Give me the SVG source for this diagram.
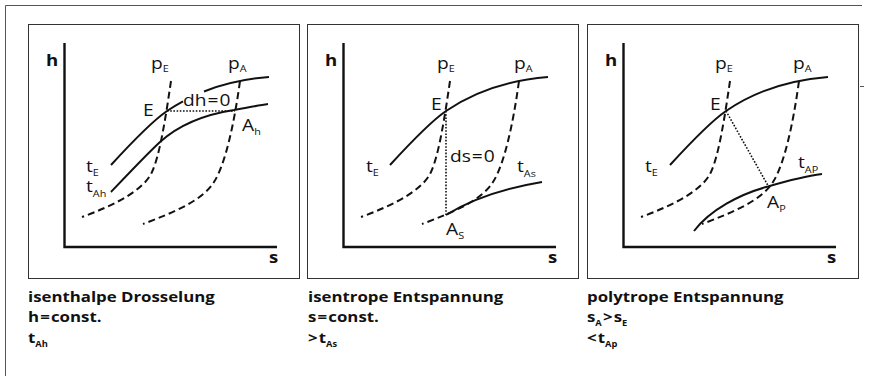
<svg xmlns="http://www.w3.org/2000/svg" width="872" height="376" viewBox="0 0 872 376">
<style>
text{font-family:"Open Sans","Liberation Sans",sans-serif;fill:#111}
.lbl{font-size:16px}
.ax{font-size:15.5px;font-weight:bold}
.cap{font-size:14.5px;font-weight:bold}
.sub{font-size:9px}
.csub{font-size:8px}
.frame{fill:none;stroke:#555;stroke-width:1}
.box{fill:none;stroke:#333;stroke-width:1}
.axis{fill:none;stroke:#111;stroke-width:2.4}
.iso{fill:none;stroke:#111;stroke-width:2}
.dash{fill:none;stroke:#111;stroke-width:2;stroke-dasharray:7 4}
.dot{fill:none;stroke:#111;stroke-width:1.6;stroke-dasharray:1.6 1.6}
</style>
<defs>
<rect id="box" x="28.5" y="24.5" width="271" height="254"/>
<path id="axes" d="M64.5,43 V247 H277"/>
<path id="pE" d="M171,81 C166,115 160,155 152,172 C144,190 115,205 82,217"/>
<path id="pA" d="M240,81 C234,125 225,165 214,182 C203,200 175,212 143,224"/>
<path id="tE" d="M111,165 C133,141 151,122 167,111 C196,91 231,80 269,77"/>
</defs>

<g id="frame">
<path class="frame" d="M5.5,376 V5.5 H862"/>
<path class="frame" d="M860,86.5 H864"/>
</g>

<g id="panel-isenthalp">
<use href="#box" class="box"/>
<use href="#axes" class="axis"/>
<g id="curves-1">
<use href="#pE" class="dash"/>
<use href="#pA" class="dash"/>
<path class="iso" d="M111,165 C133,141 151,122 167,111 C172.1,107.5 177.35,104.3 183,101.3"/>
<path class="iso" d="M204,91.45 C224.1,83.55 246,78.8 269,77"/>
<path class="iso" d="M111,192 C130,172 148,153 160,142 C180,124 208,114 234,110 C248,107.5 258,105.5 268,104"/>
<path class="dot" d="M167,111 H235"/>
</g>
<text class="ax" transform="translate(46,66) scale(1.2,1)">h</text>
<text class="ax" transform="translate(269,263) scale(1.2,1)">s</text>
<text class="lbl" transform="translate(151,69) scale(1.2,1)">p<tspan class="sub" dy="3">E</tspan></text>
<text class="lbl" transform="translate(228,69) scale(1.2,1)">p<tspan class="sub" dy="3">A</tspan></text>
<text class="lbl" transform="translate(143,115.5) scale(1.2,1)">E</text>
<text class="lbl" transform="translate(183,105.5) scale(1.2,1)">dh<tspan dx="0.8">=</tspan><tspan dx="0.8">0</tspan></text>
<text class="lbl" transform="translate(242,131) scale(1.2,1)">A<tspan class="sub" dy="4">h</tspan></text>
<text class="lbl" transform="translate(86,171.5) scale(1.2,1)">t<tspan class="sub" dy="4">E</tspan></text>
<text class="lbl" transform="translate(86,192) scale(1.2,1)">t<tspan class="sub" dy="5">Ah</tspan></text>
<text class="cap" transform="translate(28,302) scale(1.16,1)">isenthalpe Drosselung</text>
<text class="cap" transform="translate(28,322) scale(1.16,1)">h<tspan dx="1">=</tspan><tspan dx="1">const.</tspan></text>
<text class="cap" transform="translate(28,343) scale(1.16,1)">t<tspan class="csub" dy="4">Ah</tspan></text>
</g>

<g id="panel-isentrop">
<g transform="translate(279,0)">
<use href="#box" class="box"/>
<use href="#axes" class="axis"/>
<g id="curves-2">
<use href="#pE" class="dash"/>
<use href="#pA" class="dash"/>
<use href="#tE" class="iso"/>
<path class="iso" d="M167,215 C191,200 221,189 263,182"/>
<path class="dot" d="M167,111 V215"/>
</g>
</g>
<text class="ax" transform="translate(325,66) scale(1.2,1)">h</text>
<text class="ax" transform="translate(548,263) scale(1.2,1)">s</text>
<text class="lbl" transform="translate(437,69) scale(1.2,1)">p<tspan class="sub" dy="3">E</tspan></text>
<text class="lbl" transform="translate(514,69) scale(1.2,1)">p<tspan class="sub" dy="3">A</tspan></text>
<text class="lbl" transform="translate(431,110) scale(1.2,1)">E</text>
<text class="lbl" transform="translate(450,162) scale(1.2,1)">ds<tspan dx="0.8">=</tspan><tspan dx="0.8">0</tspan></text>
<text class="lbl" transform="translate(366,171.5) scale(1.2,1)">t<tspan class="sub" dy="4">E</tspan></text>
<text class="lbl" transform="translate(517,171.5) scale(1.2,1)">t<tspan class="sub" dy="5">As</tspan></text>
<text class="lbl" transform="translate(446,235) scale(1.2,1)">A<tspan class="sub" dy="4">S</tspan></text>
<text class="cap" transform="translate(308,302) scale(1.16,1)">isentrope Entspannung</text>
<text class="cap" transform="translate(308,322) scale(1.16,1)">s<tspan dx="1">=</tspan><tspan dx="1">const.</tspan></text>
<text class="cap" transform="translate(308,343) scale(1.16,1)">&gt;<tspan dx="1">t</tspan><tspan class="csub" dy="4">As</tspan></text>
</g>

<g id="panel-polytrop">
<g transform="translate(559,0)">
<use href="#box" class="box"/>
<use href="#axes" class="axis"/>
<g id="curves-3">
<use href="#pE" class="dash"/>
<use href="#pA" class="dash"/>
<use href="#tE" class="iso"/>
<path class="iso" d="M135,231 C151,210 181,194 209,186.5 C231,180 247,176 263,174"/>
<path class="dot" d="M167,111 L209.5,186.5"/>
</g>
</g>
<text class="ax" transform="translate(605,66) scale(1.2,1)">h</text>
<text class="ax" transform="translate(827,263) scale(1.2,1)">s</text>
<text class="lbl" transform="translate(715,69) scale(1.2,1)">p<tspan class="sub" dy="3">E</tspan></text>
<text class="lbl" transform="translate(793,69) scale(1.2,1)">p<tspan class="sub" dy="3">A</tspan></text>
<text class="lbl" transform="translate(710,109.5) scale(1.2,1)">E</text>
<text class="lbl" transform="translate(645,171.5) scale(1.2,1)">t<tspan class="sub" dy="4">E</tspan></text>
<text class="lbl" transform="translate(798,168) scale(1.2,1)">t<tspan class="sub" dy="5">AP</tspan></text>
<text class="lbl" transform="translate(767,207.5) scale(1.2,1)">A<tspan class="sub" dy="4">P</tspan></text>
<text class="cap" transform="translate(587,302) scale(1.16,1)">polytrope Entspannung</text>
<text class="cap" transform="translate(587,322) scale(1.16,1)">s<tspan class="csub" dy="4">A</tspan><tspan dy="-4" dx="1">&gt;</tspan><tspan dx="1">s</tspan><tspan class="csub" dy="4">E</tspan></text>
<text class="cap" transform="translate(587,343) scale(1.16,1)">&lt;<tspan dx="1">t</tspan><tspan class="csub" dy="4">Ap</tspan></text>
</g>
</svg>
